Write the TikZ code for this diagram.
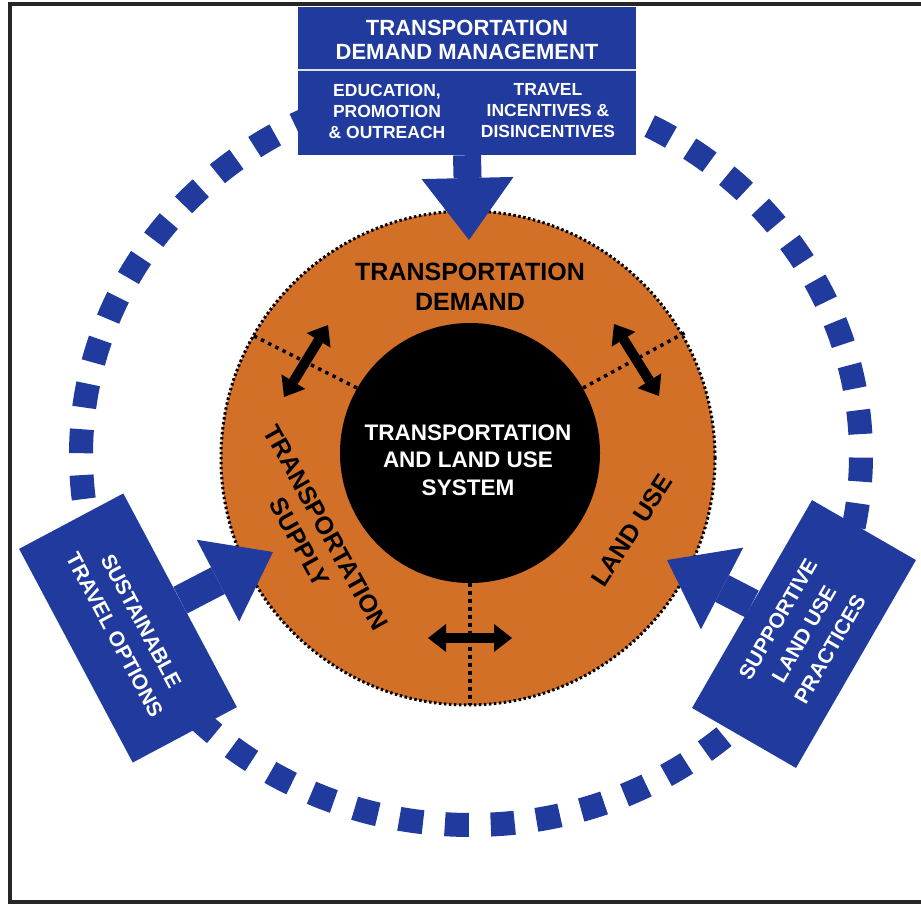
\documentclass[tikz,border=0pt]{standalone}
\usepackage{fontspec}
\setmainfont{Liberation Sans}
\usetikzlibrary{arrows.meta}

\definecolor{tdmblue}{RGB}{33,58,158}
\definecolor{ringorange}{RGB}{210,112,40}

\begin{document}
\begin{tikzpicture}[x=1pt, y=-1pt,
  bluebox/.style={fill=tdmblue, text=white, align=center, inner sep=0pt},
  bigarrow/.style={tdmblue, line width=30pt, -{Triangle[width=92pt,length=62pt,line width=0pt]}},
  dblarrow/.style={line width=10pt, {Triangle[width=28pt,length=18pt,line width=0pt]}-{Triangle[width=28pt,length=18pt,line width=0pt]}},
  divider/.style={line width=3.5pt, dash pattern=on 3.5pt off 4.5pt},
  ringlabel/.style={font=\fontsize{25}{30}\selectfont\bfseries, align=center},
  boxlabel/.style={font=\fontsize{21}{30}\selectfont\bfseries}]
  \useasboundingbox (0,0) rectangle (921,904);

  % 外框
  \draw[line width=4pt, black!85] (921,4) -- (10,4) -- (10,902) -- (921,902);

  % 蓝色虚线环
  \coordinate (ringc) at (471,455);
  \draw[tdmblue, line width=24pt, dash pattern=on 24pt off 21.9pt, dash phase=25pt]
    (ringc) ellipse [x radius=390pt, y radius=370pt];

  % 橙色圆与黑色圆
  \coordinate (O) at (468,458);
  \coordinate (S) at (470,453);
  \fill[ringorange] (O) circle [radius=247pt];
  \draw[line width=3pt, dash pattern=on 2.5pt off 2.5pt] (O) circle [radius=247pt];
  \fill[black] (S) circle [radius=130pt];

  % 分隔线
  \coordinate (d1a) at (357,388);
  \coordinate (d1b) at (252,335);
  \coordinate (d2a) at (583,388);
  \coordinate (d2b) at (686,332);
  \coordinate (d3a) at (470,583);
  \coordinate (d3b) at (470,705);
  \draw[divider] (d1a) -- (d1b);
  \draw[divider] (d2a) -- (d2b);
  \draw[divider] (d3a) -- (d3b);

  % 双向箭头
  \coordinate (a1a) at (328,325);
  \coordinate (a1b) at (284,397);
  \coordinate (a2a) at (614,324);
  \coordinate (a2b) at (659,396);
  \coordinate (a3a) at (428,638);
  \coordinate (a3b) at (512,638);
  \draw[dblarrow] (a1a) -- (a1b);
  \draw[dblarrow] (a2a) -- (a2b);
  \draw[dblarrow] (a3a) -- (a3b);

  % 环内文字
  \node[ringlabel] (demand) at (470,287) {TRANSPORTATION\\DEMAND};
  \node[ringlabel, rotate=-61] (supply) at (313,535) {TRANSPORTATION\\SUPPLY};
  \node[ringlabel, rotate=57] (landuse) at (632,530) {LAND USE};
  \node[font=\fontsize{22.5}{27.5}\selectfont\bfseries, text=white, align=center]
    (system) at (468,460) {TRANSPORTATION\\AND LAND USE\\SYSTEM};

  % 上方方框 TDM
  \node[bluebox, minimum width=338pt, minimum height=148pt] (tdm) at (467,81) {};
  \coordinate (sepL) at (298,70);
  \coordinate (sepR) at (636,70);
  \draw[white!85!tdmblue, line width=2pt] (sepL) -- (sepR);
  \node[font=\fontsize{22}{24}\selectfont\bfseries, text=white, align=center]
    (tdmtitle) at (467,40) {TRANSPORTATION\\DEMAND MANAGEMENT};
  \node[font=\fontsize{17.5}{21}\selectfont\bfseries, text=white, align=center]
    (edu) at (387,111) {EDUCATION,\\PROMOTION\\\& OUTREACH};
  \node[font=\fontsize{17.5}{21}\selectfont\bfseries, text=white, align=center]
    (inc) at (548,111) {TRAVEL\\INCENTIVES \&\\DISINCENTIVES};
  \coordinate (tdmtip) at (469,240);
  \draw[bigarrow, line width=28pt] (tdm.south) -- (tdmtip);

  % 左侧方框
  \node[bluebox, boxlabel, minimum width=242pt, minimum height=118pt, rotate=-62]
    (sto) at (128,628) {SUSTAINABLE\\TRAVEL OPTIONS};
  \coordinate (stotip) at (273,552);
  \draw[bigarrow] (sto.north) -- (stotip);

  % 右侧方框
  \node[bluebox, boxlabel, minimum width=240pt, minimum height=120pt, rotate=60]
    (slu) at (804,634) {SUPPORTIVE\\LAND USE\\PRACTICES};
  \coordinate (slutip) at (667,560);
  \draw[bigarrow] (slu.north) -- (slutip);
\end{tikzpicture}
\end{document}
